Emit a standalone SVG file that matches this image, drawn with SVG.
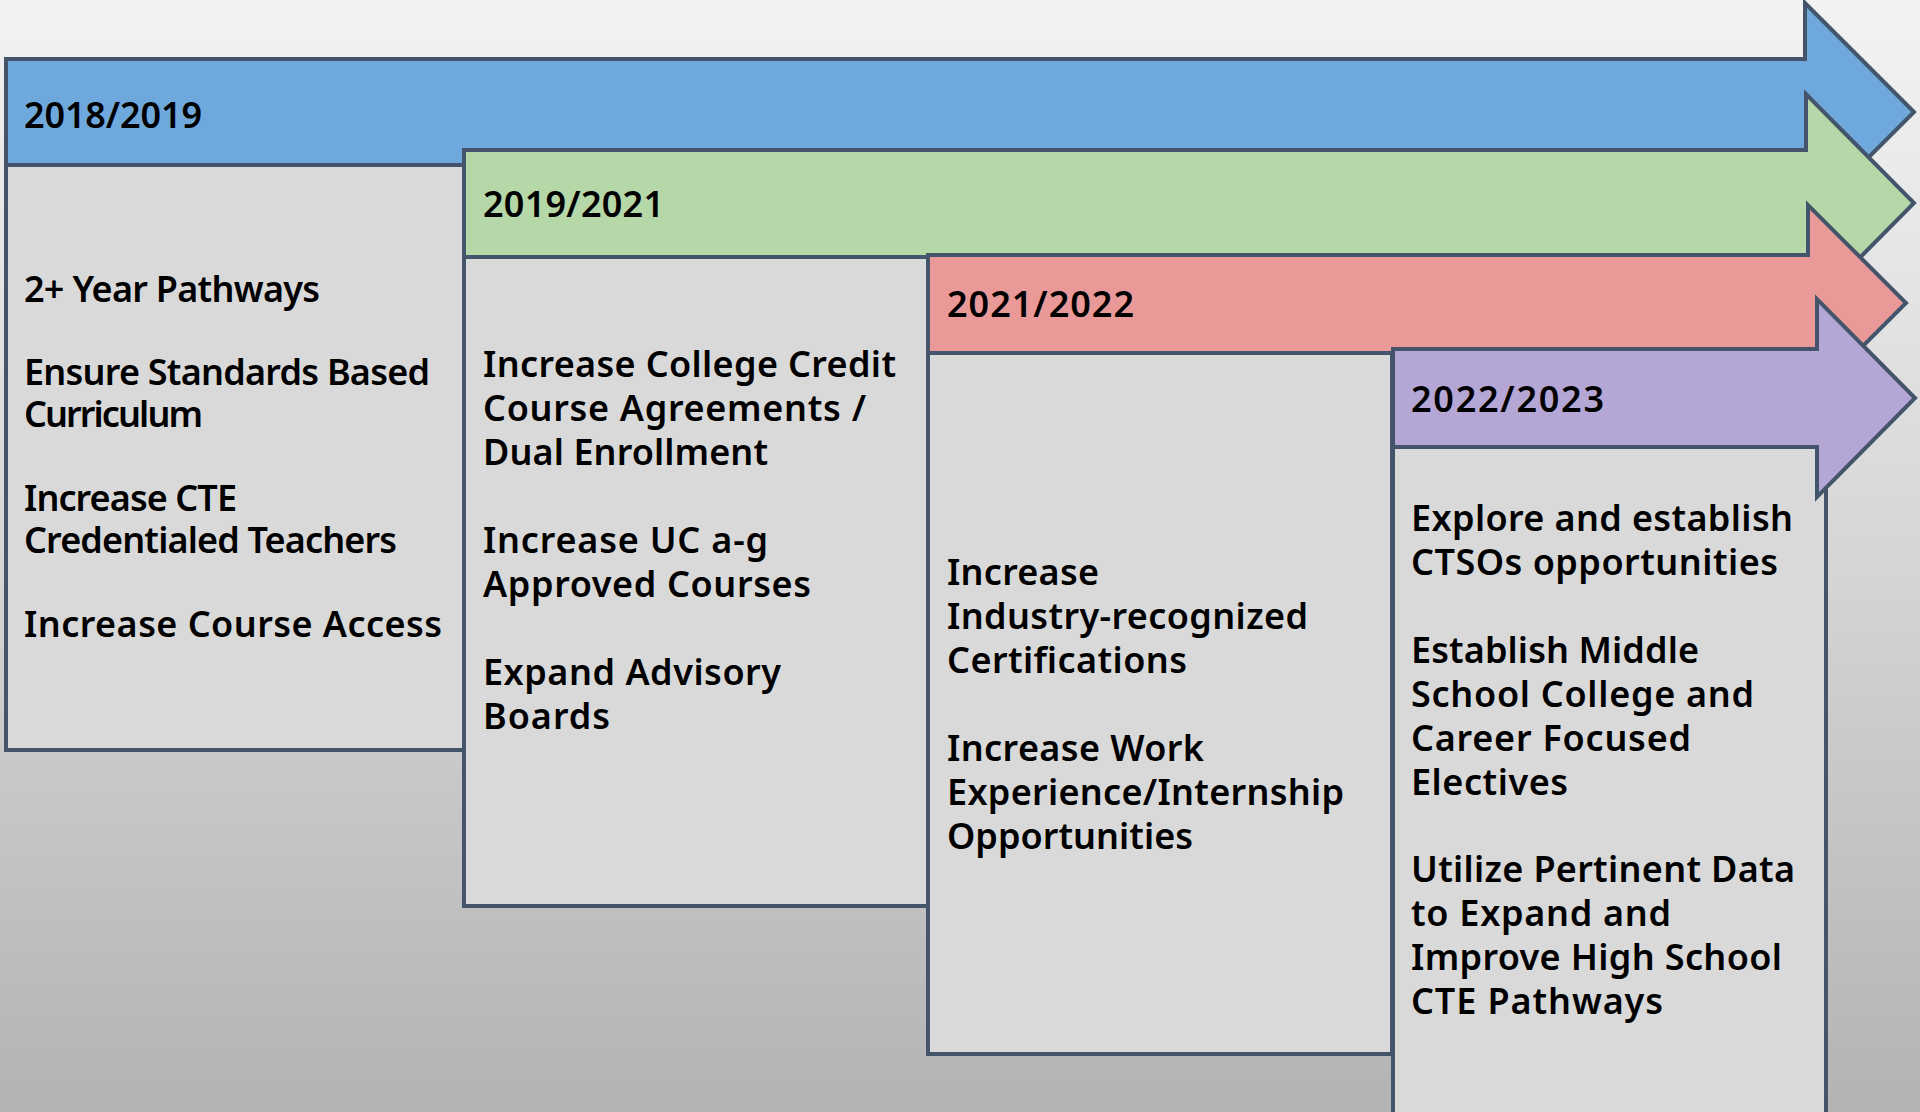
<svg xmlns="http://www.w3.org/2000/svg" width="1920" height="1112" viewBox="0 0 1920 1112">
<defs>
<linearGradient id="bg" x1="0" y1="0" x2="0" y2="1">
<stop offset="0" stop-color="#f3f3f3"/>
<stop offset="0.5" stop-color="#d6d6d6"/>
<stop offset="1" stop-color="#b3b3b3"/>
</linearGradient>
<style>
.box{fill:#d9d9d9;stroke:#44546a;stroke-width:4}
.arr{stroke:#44546a;stroke-width:4;stroke-linejoin:miter}
text{font-family:"Noto Sans",Lato,sans-serif;font-weight:600;font-size:36px;fill:#000}
</style>
</defs>
<rect width="1920" height="1112" fill="url(#bg)"/>
<g id="stage-2018">
<rect class="box" x="6" y="165" width="458" height="585"/>
<polygon class="arr" fill="#6fa8dc" points="6,59 1805,59 1805,3 1914,112 1805,221 1805,165 6,165"/>
<text x="24" y="128" textLength="178" lengthAdjust="spacing">2018/2019</text>
<text x="24" y="302" textLength="296" lengthAdjust="spacing">2+ Year Pathways</text>
<text x="24" y="385" textLength="406" lengthAdjust="spacing">Ensure Standards Based</text>
<text x="24" y="427" textLength="179" lengthAdjust="spacing">Curriculum</text>
<text x="24" y="511" textLength="213" lengthAdjust="spacing">Increase CTE</text>
<text x="24" y="553" textLength="373" lengthAdjust="spacing">Credentialed Teachers</text>
<text x="24" y="637" textLength="418" lengthAdjust="spacing">Increase Course Access</text>
</g>
<g id="stage-2019">
<rect class="box" x="464" y="257" width="464" height="649"/>
<polygon class="arr" fill="#b6d7a8" points="464,150 1806,150 1806,94 1914,203 1806,312 1806,257 464,257"/>
<text x="483" y="217" textLength="181" lengthAdjust="spacing">2019/2021</text>
<text x="483" y="377" textLength="413" lengthAdjust="spacing">Increase College Credit</text>
<text x="483" y="421" textLength="383" lengthAdjust="spacing">Course Agreements /</text>
<text x="483" y="465" textLength="285" lengthAdjust="spacing">Dual Enrollment</text>
<text x="483" y="553" textLength="285" lengthAdjust="spacing">Increase UC a-g</text>
<text x="483" y="597" textLength="328" lengthAdjust="spacing">Approved Courses</text>
<text x="483" y="685" textLength="298" lengthAdjust="spacing">Expand Advisory</text>
<text x="483" y="729" textLength="127" lengthAdjust="spacing">Boards</text>
</g>
<g id="stage-2021">
<rect class="box" x="928" y="353" width="464" height="701"/>
<polygon class="arr" fill="#ea9999" points="928,255 1808,255 1808,205 1906,303 1808,401 1808,353 928,353"/>
<text x="947" y="317" textLength="187" lengthAdjust="spacing">2021/2022</text>
<text x="947" y="585" textLength="152" lengthAdjust="spacing">Increase</text>
<text x="947" y="629" textLength="361" lengthAdjust="spacing">Industry-recognized</text>
<text x="947" y="673" textLength="240" lengthAdjust="spacing">Certifications</text>
<text x="947" y="761" textLength="257" lengthAdjust="spacing">Increase Work</text>
<text x="947" y="805" textLength="397" lengthAdjust="spacing">Experience/Internship</text>
<text x="947" y="849" textLength="246" lengthAdjust="spacing">Opportunities</text>
</g>
<g id="stage-2022">
<rect class="box" x="1393" y="447" width="433" height="700"/>
<polygon class="arr" fill="#b4a7d6" points="1393,349 1817,349 1817,299 1915,398 1817,497 1817,447 1393,447"/>
<text x="1411" y="412" textLength="193" lengthAdjust="spacing">2022/2023</text>
<text x="1411" y="531" textLength="382" lengthAdjust="spacing">Explore and establish</text>
<text x="1411" y="575" textLength="367" lengthAdjust="spacing">CTSOs opportunities</text>
<text x="1411" y="663" textLength="288" lengthAdjust="spacing">Establish Middle</text>
<text x="1411" y="707" textLength="343" lengthAdjust="spacing">School College and</text>
<text x="1411" y="751" textLength="280" lengthAdjust="spacing">Career Focused</text>
<text x="1411" y="795" textLength="157" lengthAdjust="spacing">Electives</text>
<text x="1411" y="882" textLength="384" lengthAdjust="spacing">Utilize Pertinent Data</text>
<text x="1411" y="926" textLength="260" lengthAdjust="spacing">to Expand and</text>
<text x="1411" y="970" textLength="371" lengthAdjust="spacing">Improve High School</text>
<text x="1411" y="1014" textLength="252" lengthAdjust="spacing">CTE Pathways</text>
</g>
<g id="connectors"/>
</svg>
